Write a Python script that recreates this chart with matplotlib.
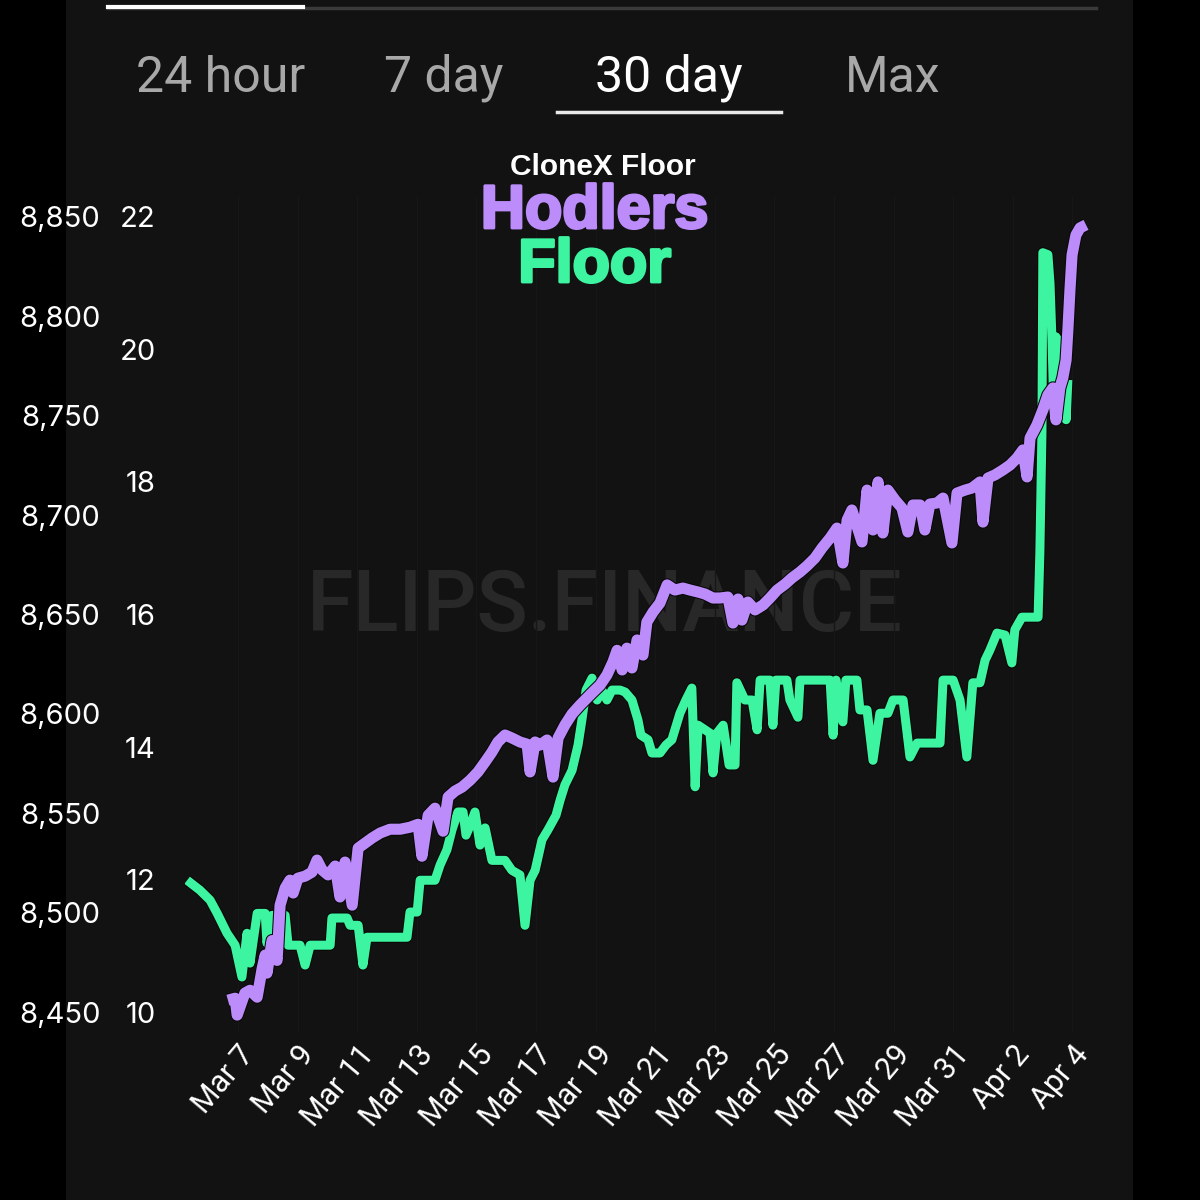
import numpy as np
import matplotlib
matplotlib.use("Agg")
import matplotlib.pyplot as plt
import matplotlib.patheffects as pe
from matplotlib.lines import Line2D

# ---------------- data ----------------
start_date = np.datetime64("2022-03-07T00:00")

# Hodlers (left-most axis), days after Mar 7
hodlers_days = [-0.34, -0.10, -0.03, 0.23, 0.40, 0.64, 0.81, 0.91, 0.97, 1.14, 1.31, 1.41, 1.58, 1.74,
                1.85, 2.01, 2.25, 2.48, 2.65, 2.82, 3.02, 3.26, 3.42, 3.59, 3.83, 4.03, 4.26, 4.50,
                4.77, 5.10, 5.44, 5.77, 6.04, 6.17, 6.38, 6.61, 6.88, 7.05, 7.28, 7.52, 7.79, 8.05,
                8.29, 8.52, 8.72, 8.96, 9.19, 9.46, 9.70, 9.80, 9.97, 10.13, 10.37, 10.57, 10.74,
                10.97, 11.21, 11.48, 11.71, 11.91, 12.15, 12.38, 12.58, 12.72, 12.89, 13.05, 13.22,
                13.39, 13.59, 13.72, 13.93, 14.16, 14.40, 14.66, 14.93, 15.17, 15.44, 15.67, 15.94,
                16.17, 16.44, 16.61, 16.78, 16.91, 17.11, 17.35, 17.62, 17.85, 18.09, 18.36, 18.59,
                18.86, 19.09, 19.36, 19.60, 19.87, 20.10, 20.30, 20.44, 20.60, 20.94, 21.11, 21.31,
                21.48, 21.64, 21.81, 22.05, 22.28, 22.48, 22.65, 22.89, 23.05, 23.22, 23.46, 23.66,
                23.96, 24.13, 24.40, 24.63, 24.90, 25.00, 25.17, 25.40, 25.67, 25.91, 26.14, 26.34,
                26.48, 26.58, 26.81, 27.01, 27.18, 27.35, 27.45, 27.58, 27.68, 27.79, 27.85, 27.92,
                27.99, 28.12, 28.26, 28.46]
hodlers_values = [8456, 8457, 8448.5, 8459.6, 8461, 8457.5, 8472, 8478.7, 8469.6, 8486, 8476, 8503.8,
                  8512.4, 8516.4, 8509.9, 8517.4, 8518.4, 8520.4, 8526.5, 8521.5, 8519, 8523.5, 8507.9,
                  8525.5, 8503.8, 8532.5, 8535, 8537.6, 8540.1, 8542, 8542, 8543, 8544.5, 8528.4, 8549,
                  8552.6, 8541, 8558.2, 8561.2, 8563.2, 8566.7, 8570.8, 8575.8, 8580.8, 8585.9, 8589.4,
                  8587.9, 8585.9, 8584.8, 8570.8, 8585.9, 8584.3, 8586.9, 8568.2, 8587.9, 8594.4, 8600,
                  8604.5, 8608, 8611, 8614.5, 8619.6, 8626.1, 8632, 8622.1, 8633.1, 8623.1, 8637.2,
                  8629.6, 8646.2, 8651.3, 8655.8, 8664.9, 8662.3, 8663.3, 8662.3, 8661.3, 8660.3, 8658.3,
                  8658.3, 8658.8, 8645.7, 8657.8, 8647.2, 8656.3, 8652.3, 8654.8, 8658.3, 8662.3, 8665.3,
                  8668.4, 8671.4, 8674.4, 8678.4, 8683.5, 8688.5, 8693.5, 8675.9, 8697.5, 8702.6, 8686.5,
                  8712.6, 8692.5, 8716.7, 8691, 8712.6, 8707.6, 8703.6, 8691.5, 8705.1, 8705.1, 8692.5,
                  8705.6, 8706.1, 8708.6, 8686, 8711.1, 8712.6, 8713.6, 8716.7, 8696.5, 8718.7, 8720.2,
                  8722.7, 8725.2, 8728.7, 8732.8, 8719.2, 8738.8, 8745.3, 8752.9, 8760.4, 8764, 8747.9,
                  8764, 8769, 8778, 8793.1, 8813.3, 8830.9, 8840.9, 8844.5, 8846]

# Floor (second axis, ETH), days after Mar 7
floor_days = [-1.71, -1.28, -0.94, -0.70, -0.37, -0.10, 0.13, 0.30, 0.40, 0.64, 0.91, 0.97, 1.14, 1.58,
              1.68, 2.08, 2.25, 2.42, 3.09, 3.15, 3.66, 3.76, 4.03, 4.19, 4.33, 5.67, 5.77, 6.01, 6.11,
              6.61, 6.78, 7.01, 7.18, 7.38, 7.55, 7.65, 7.79, 7.95, 8.12, 8.29, 8.52, 8.96, 9.19, 9.46,
              9.63, 9.80, 9.97, 10.20, 10.40, 10.67, 10.81, 10.97, 11.21, 11.41, 11.54, 11.68, 11.88,
              12.05, 12.21, 12.38, 12.55, 12.82, 12.99, 13.22, 13.42, 13.52, 13.76, 13.89, 14.16, 14.36,
              14.56, 14.83, 15.03, 15.23, 15.34, 15.44, 15.67, 15.84, 15.94, 16.07, 16.28, 16.48, 16.68,
              16.74, 17.01, 17.25, 17.42, 17.52, 17.85, 17.95, 18.05, 18.42, 18.52, 18.79, 18.86, 19.87,
              19.97, 20.07, 20.30, 20.40, 20.77, 20.87, 21.11, 21.31, 21.54, 21.81, 21.98, 22.32, 22.55,
              22.79, 23.56, 23.66, 24.00, 24.23, 24.46, 24.66, 24.90, 25.07, 25.23, 25.47, 25.74, 25.97,
              26.07, 26.31, 26.85, 26.91, 26.98, 27.01, 27.18, 27.25, 27.32, 27.38, 27.45, 27.52, 27.58,
              27.68, 27.79, 27.85]
floor_values = [11.99, 11.84, 11.69, 11.49, 11.19, 11.01, 10.53, 11.19, 10.74, 11.49, 11.49, 11.04, 11.46,
                11.46, 11.01, 11.01, 10.71, 11.01, 11.01, 11.42, 11.42, 11.31, 11.31, 10.71, 11.13, 11.13,
                11.51, 11.51, 11.99, 11.99, 12.22, 12.45, 12.75, 13.02, 13.02, 12.67, 12.82, 13.02, 12.52,
                12.78, 12.29, 12.29, 12.14, 12.07, 11.31, 11.99, 12.14, 12.60, 12.75, 12.97, 13.20, 13.43,
                13.65, 14.03, 14.41, 14.86, 15.04, 14.71, 14.86, 14.71, 14.86, 14.86, 14.83, 14.71, 14.41,
                14.18, 14.11, 13.91, 13.91, 14.03, 14.11, 14.51, 14.71, 14.89, 13.40, 14.33, 14.26, 14.21,
                13.61, 14.21, 14.33, 13.73, 13.73, 14.97, 14.71, 14.71, 14.26, 15.01, 15.01, 14.33, 15.01,
                15.01, 14.71, 14.45, 15.01, 15.01, 14.18, 15.01, 14.38, 15.01, 15.01, 14.56, 14.56, 13.80,
                14.51, 14.51, 14.71, 14.71, 13.85, 14.06, 14.06, 15.01, 15.01, 14.71, 13.85, 14.97, 14.97,
                15.31, 15.46, 15.72, 15.69, 15.27, 15.77, 15.96, 15.96, 16.93, 18.74, 21.46, 21.43, 21.00,
                20.10, 19.09, 20.19, 18.94, 20.14, 19.84, 18.94, 19.54]

hodlers_ticks = [8450, 8500, 8550, 8600, 8650, 8700, 8750, 8800, 8850]
floor_ticks = [10, 12, 14, 16, 18, 20, 22]
date_tick_days = [0, 2, 4, 6, 8, 10, 12, 14, 16, 18, 20, 22, 24, 26, 28]
date_tick_labels = ["Mar 7", "Mar 9", "Mar 11", "Mar 13", "Mar 15", "Mar 17", "Mar 19", "Mar 21",
                    "Mar 23", "Mar 25", "Mar 27", "Mar 29", "Mar 31", "Apr 2", "Apr 4"]
tabs = ["24 hour", "7 day", "30 day", "Max"]
selected_tab = "30 day"

# ---------------- style ----------------
PURPLE = "#BB8CFA"
GREEN = "#3DF4A0"
PANEL = "#121212"
FONT = ["Roboto", "DejaVu Sans"]
TICKFONT = ["Inter", "Roboto", "DejaVu Sans"]
BOLDFONT = ["Liberation Sans", "DejaVu Sans"]
plt.rcParams["font.family"] = FONT


def to_dt(days):
    mins = np.round(np.asarray(days, dtype=float) * 24 * 60).astype("int64")
    return start_date + mins.astype("timedelta64[m]")


fig = plt.figure(figsize=(12, 12), dpi=100, facecolor="black")

# dark app panel (background axes, drawn first)
bg = fig.add_axes([0.055, 0.0, 0.889, 1.0], zorder=-10)
bg.set_facecolor(PANEL)
bg.set_xticks([])
bg.set_yticks([])
for s in bg.spines.values():
    s.set_visible(False)

# top progress bar
fig.add_artist(Line2D([0.09, 0.913], [0.9935, 0.9935], color="#3a3a3a", lw=2.5))
fig.add_artist(Line2D([0.09, 0.2525], [0.9945, 0.9945], color="white", lw=3))

# tabs
tab_x = [0.184, 0.370, 0.557, 0.744]
for t, x in zip(tabs, tab_x):
    sel = (t == selected_tab)
    fig.text(x, 0.935, t, ha="center", va="center", fontsize=36,
             color="white" if sel else "#a8a8a8", family=FONT, fontweight="normal")
fig.add_artist(Line2D([0.464, 0.651], [0.9065, 0.9065], color="#e8e8e8", lw=2.5))

# titles
fig.text(0.502, 0.861, "CloneX Floor", ha="center", va="center", fontsize=21.5,
         color="white", fontweight="bold", family=BOLDFONT)
fig.text(0.4955, 0.823, "Hodlers", ha="center", va="center", fontsize=44,
         color=PURPLE, fontweight="bold", family=BOLDFONT,
         path_effects=[pe.withStroke(linewidth=2.2, foreground=PURPLE)])
fig.text(0.4955, 0.778, "Floor", ha="center", va="center", fontsize=44,
         color=GREEN, fontweight="bold", family=BOLDFONT,
         path_effects=[pe.withStroke(linewidth=2.2, foreground=GREEN)])

# axes
ax_f = fig.add_axes([0.1542, 0.14, 0.7558, 0.6958])
ax_f.set_facecolor("none")
ax_h = ax_f.twinx()
ax_h.set_facecolor("none")

ax_f.set_xlim(to_dt([-1.78])[0], to_dt([28.66])[0])
ax_f.set_ylim(9.7, 22.3)
ax_h.set_ylim(8440, 8860)

# watermark
ax_f.text(0.463, 0.509, "FLIPS.FINANCE", transform=ax_f.transAxes, ha="center", va="center",
          fontsize=61, color="#282828", family=FONT, fontweight="medium", zorder=0.5)

# ticks / faint grid
ax_f.set_xticks(to_dt(date_tick_days))
ax_f.set_xticklabels(date_tick_labels)
ax_f.grid(axis="x", color="#171717", lw=1)
ax_f.set_axisbelow(True)

# series
ax_f.plot(to_dt(floor_days), floor_values, color=GREEN, lw=6.5, solid_joinstyle="round",
          solid_capstyle="butt", zorder=2,
          path_effects=[pe.Stroke(linewidth=8.0, foreground="#080808", joinstyle="round"), pe.Normal()])
ax_h.plot(to_dt(hodlers_days), hodlers_values, color=PURPLE, lw=8, solid_joinstyle="round",
          solid_capstyle="butt", zorder=2,
          path_effects=[pe.Stroke(linewidth=9.5, foreground="#080808", joinstyle="round"), pe.Normal()])

# y ticks both on the left side
ax_f.set_yticks(floor_ticks)
ax_f.set_yticklabels([str(v) for v in floor_ticks], family=TICKFONT)
ax_h.set_yticks(hodlers_ticks)
ax_h.set_yticklabels([f"{v:,}" for v in hodlers_ticks], family=TICKFONT)
ax_h.yaxis.set_ticks_position("left")
ax_h.yaxis.set_label_position("left")

ax_f.tick_params(axis="y", length=0, pad=21, labelsize=21, labelcolor="white")
ax_h.tick_params(axis="y", length=0, pad=61, labelsize=21, labelcolor="white",
                 left=True, labelleft=True, right=False, labelright=False)
ax_f.tick_params(axis="x", length=0, pad=6, labelsize=22, labelcolor="white")
for lab in ax_f.get_xticklabels():
    lab.set_rotation(50)
    lab.set_ha("right")
    lab.set_va("top")
    lab.set_rotation_mode("anchor")
    lab.set_x(lab.get_position()[0])

for a in (ax_f, ax_h):
    for s in a.spines.values():
        s.set_visible(False)

fig.savefig("out.png", dpi=100, facecolor="black")
